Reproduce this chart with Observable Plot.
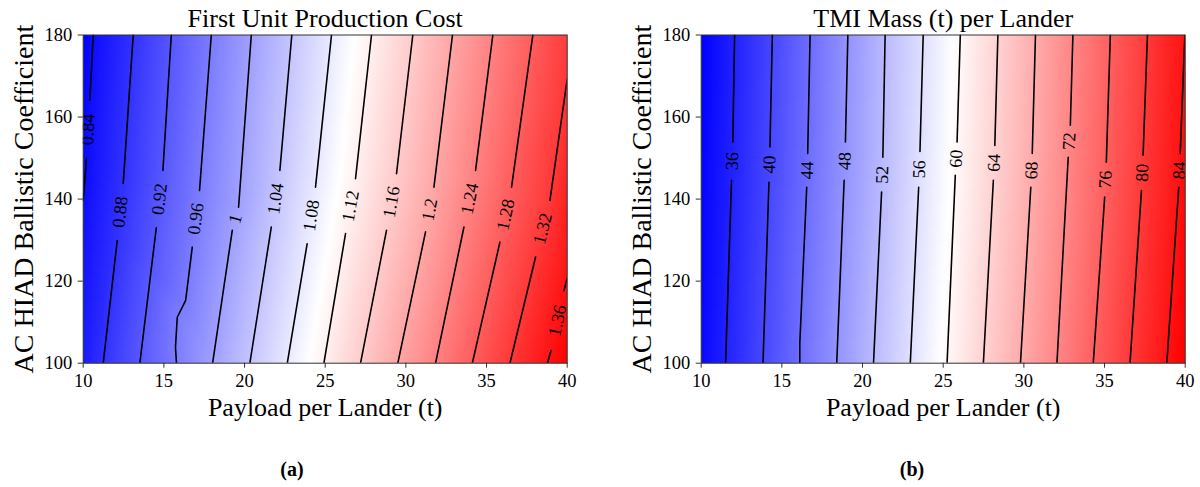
<!DOCTYPE html>
<html><head><meta charset="utf-8">
<script src="https://cdn.jsdelivr.net/npm/d3@7"></script>
<script src="https://cdn.jsdelivr.net/npm/@observablehq/plot@0.6"></script>
<style>
body{margin:0;background:#fff;width:1200px;height:487px;overflow:hidden;font-family:"Liberation Serif","Times New Roman",serif;}
svg text{font-family:"Liberation Serif","Times New Roman",serif !important;}
#row{display:flex;}
#row>div{width:600px;height:440px;}
#caps{position:relative;height:47px;}
.cap{position:absolute;font-family:"Liberation Serif","Times New Roman",serif;font-weight:bold;font-size:20px;transform:translateX(-50%);line-height:23px;}
</style></head><body>
<div id="row"><div id="a"></div><div id="b"></div></div>
<div id="caps"><span class="cap" style="left:292px;top:18px">(a)</span><span class="cap" style="left:912px;top:18px">(b)</span></div>
<script>
const xDomain = [10, 40];
const yDomain = [100, 180];
const xTicks = [10, 15, 20, 25, 30, 35, 40];
const yTicks = [100, 120, 140, 160, 180];

const costTitle = "First Unit Production Cost";
const massTitle = "TMI Mass (t) per Lander";
const xLabel = "Payload per Lander (t)";
const yLabel = "AC HIAD Ballistic Coefficient";

// Panel (a): contour levels, and each contour's part above / below its label ([payload, ballistic coeff])
const costLevels = [0.84, 0.88, 0.92, 0.96, 1, 1.04, 1.08, 1.12, 1.16, 1.2, 1.24, 1.28, 1.32, 1.36];
const costUpper = [
  [[10.62,180],[10.41,164.1]],
  [[13.10,180],[12.48,143.8]],
  [[15.46,180],[14.94,147.0]],
  [[17.94,180],[17.21,142.1]],
  [[20.42,180],[19.63,138.0]],
  [[22.93,180],[22.19,147.0]],
  [[25.39,180],[24.40,142.9]],
  [[27.87,180],[26.88,145.0]],
  [[30.43,180],[29.42,146.2]],
  [[32.89,180],[31.74,142.9]],
  [[35.39,180],[34.32,147.0]],
  [[37.87,180],[36.55,142.9]],
  [[40,169.2],[38.93,139.7]],
  [[40,120.7],[39.80,117.7]]
];
const costLower = [
  [[10.20,149.9],[10.00,139.7]],
  [[12.11,129.9],[11.24,100]],
  [[14.53,133.0],[13.51,100]],
  [[16.76,128.3],[16.35,115.3],[15.83,111.2],[15.72,103.9],[15.78,100]],
  [[19.24,132.4],[18.02,100]],
  [[21.66,133.2],[20.33,100]],
  [[23.88,129.1],[22.65,100]],
  [[26.26,131.6],[24.92,100]],
  [[28.80,132.4],[27.19,100]],
  [[31.22,132.0],[29.50,100]],
  [[33.60,133.2],[31.84,100]],
  [[35.83,129.5],[34.12,100]],
  [[38.04,125.9],[36.45,100]],
  [[39.00,103.1],[38.77,100]]
];
const costCorners = [[10,100,0.855],[10,180,0.825],[40,100,1.381],[40,180,1.315]];

// Panel (b)
const massLevels = [36, 40, 44, 48, 52, 56, 60, 64, 68, 72, 76, 80, 84];
const massUpper = [
  [[12.07,180],[11.96,153.9]],
  [[14.41,180],[14.26,152.7]],
  [[16.75,180],[16.60,151.1]],
  [[19.09,180],[18.94,153.9]],
  [[21.40,180],[21.26,150.2]],
  [[23.76,180],[23.56,151.6]],
  [[26.06,180],[25.86,153.9]],
  [[28.39,180],[28.20,153.1]],
  [[30.72,180],[30.52,151.1]],
  [[33.04,180],[32.88,158.0]],
  [[35.36,180],[35.11,149.0]],
  [[37.66,180],[37.39,150.7]],
  [[39.98,180],[39.69,151.1]]
];
const massLower = [
  [[11.88,144.6],[11.51,100]],
  [[14.20,144.1],[13.83,100]],
  [[16.54,142.9],[16.23,115.3],[16.11,104.7],[16.11,100]],
  [[18.86,144.6],[18.40,100]],
  [[21.18,141.7],[20.68,100]],
  [[23.48,142.9],[22.96,100]],
  [[25.75,145.8],[25.24,100]],
  [[28.11,144.6],[27.49,100]],
  [[30.43,142.9],[29.79,100]],
  [[32.75,150.2],[32.05,100]],
  [[35.01,140.5],[34.30,100]],
  [[37.29,142.1],[36.58,100]],
  [[39.60,142.9],[38.86,100]]
];
const massCorners = [[10,100,33.4],[10,180,32.5],[40,100,86.0],[40,180,84.0]];

const FONT = "'Liberation Serif','Times New Roman',serif";

function panel({levels, upper, lower, corners, title, marginLeft, marginRight, yLabelX}) {
  const W = 600, H = 440, mt = 34.5, mb = 77.3;
  const pw = W - marginLeft - marginRight, ph = H - mt - mb;
  const kx = pw / (xDomain[1] - xDomain[0]), ky = ph / (yDomain[1] - yDomain[0]);
  const segs = [], samples = [], labels = [];
  levels.forEach((v, i) => {
    [upper[i], lower[i]].forEach((pts, j) => pts.forEach(([x, y]) => {
      segs.push({x, y, v, z: i * 2 + j});
      samples.push({x, y, v});
    }));
    const a = upper[i][upper[i].length - 1], b = lower[i][0];
    const ang = Math.atan2((a[0] - b[0]) * kx, (a[1] - b[1]) * ky) * 180 / Math.PI;
    labels.push({x: (a[0] + b[0]) / 2, y: (a[1] + b[1]) / 2, text: String(v), rotate: ang - 90});
  });
  corners.forEach(([x, y, v]) => samples.push({x, y, v}));
  const [lo, hi] = d3.extent(samples, d => d.v);
  const tickText = {fontFamily: FONT, fontSize: 18.5, fill: "black"};
  return Plot.plot({
    width: W, height: H, marginTop: mt, marginBottom: mb, marginLeft, marginRight,
    style: {fontFamily: FONT, fontSize: "18.5px", color: "#000", background: "transparent"},
    x: {domain: xDomain, label: null},
    y: {domain: yDomain, label: null},
    color: {type: "linear", domain: [lo, (lo + hi) / 2, hi], range: ["#0000ff", "#ffffff", "#ff0000"], interpolate: "rgb"},
    marks: [
      Plot.raster(samples, {x: "x", y: "y", fill: "v", interpolate: "barycentric",
        x1: xDomain[0], x2: xDomain[1], y1: yDomain[0], y2: yDomain[1], pixelSize: 1}),
      Plot.line(segs, {x: "x", y: "y", z: "z", stroke: "black", strokeWidth: 1.6, clip: true}),
      Plot.text(labels, {x: "x", y: "y", text: "text", rotate: "rotate", fontFamily: FONT, fontSize: 18, fill: "black", clip: true}),
      Plot.frame({stroke: "#333", strokeWidth: 1}),
      Plot.axisX({ticks: xTicks, tickSize: 5, tickPadding: 6, label: null, stroke: "#333", ...tickText}),
      Plot.axisY({ticks: yTicks, tickSize: 5, tickPadding: 6, label: null, stroke: "#333", ...tickText}),
      Plot.text([title], {text: d => d, frameAnchor: "top", dy: -16, lineAnchor: "middle", textAnchor: "middle", fontFamily: FONT, fontSize: 26, fill: "black"}),
      Plot.text([xLabel], {text: d => d, frameAnchor: "bottom", dy: 44, lineAnchor: "middle", textAnchor: "middle", fontFamily: FONT, fontSize: 26, fill: "black"}),
      Plot.text([yLabel], {text: d => d, frameAnchor: "left", dx: yLabelX - marginLeft, lineAnchor: "middle", textAnchor: "middle", rotate: -90, fontFamily: FONT, fontSize: 28, fill: "black"})
    ]
  });
}

document.getElementById("a").append(panel({
  levels: costLevels, upper: costUpper, lower: costLower, corners: costCorners,
  title: costTitle, marginLeft: 82.7, marginRight: 33.3, yLabelX: 24
}));
document.getElementById("b").append(panel({
  levels: massLevels, upper: massUpper, lower: massLower, corners: massCorners,
  title: massTitle, marginLeft: 100.7, marginRight: 15.3, yLabelX: 41.5
}));
</script>
</body></html>
